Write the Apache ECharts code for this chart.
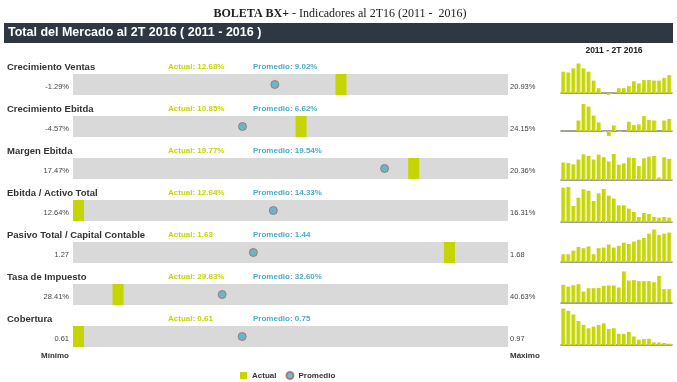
<!DOCTYPE html>
<html>
<head>
<meta charset="utf-8">
<script src="https://cdn.jsdelivr.net/npm/echarts@6/dist/echarts.min.js"></script>
<style>
html,body{margin:0;padding:0;background:#fff;}
#chart{width:677px;height:382px;}
</style>
</head>
<body>
<div id="chart"></div>
<script>
// ---------- DATA ----------
const indicators = ['Crecimiento Ventas', 'Crecimiento Ebitda', 'Margen Ebitda', 'Ebitda / Activo Total', 'Pasivo Total / Capital Contable', 'Tasa de Impuesto', 'Cobertura'];
const minValues = [-1.29, -4.57, 17.47, 12.64, 1.27, 28.41, 0.61];
const maxValues = [20.93, 24.15, 20.36, 16.31, 1.68, 40.63, 0.97];
const actualValues = [12.68, 10.85, 19.77, 12.64, 1.63, 29.83, 0.61];
const averageValues = [9.02, 6.62, 19.54, 14.33, 1.44, 32.60, 0.75];
const isPercent = [true, true, true, true, false, true, false];
const quarters = ['1T11','2T11','3T11','4T11','1T12','2T12','3T12','4T12','1T13','2T13','3T13','4T13','1T14','2T14','3T14','4T14','1T15','2T15','3T15','4T15','1T16','2T16'];
const histVentas = [15.1, 14.6, 17.5, 20.93, 17.5, 15.1, 8.8, 3.4, 0.2, -1.29, 0.2, 3.4, 3.4, 4.9, 8.3, 6.8, 9.2, 9.2, 8.8, 8.8, 10.7, 12.68];
const histEbitda = [0.1, 0.1, 0.1, 9.4, 24.15, 21.8, 13.8, 7.7, -1.0, -4.57, 5.0, -0.8, 0, 8.2, 5.3, 5.9, 13.3, 10.0, 9.4, 0, 9.4, 10.85];
const histMargen = [19.32, 19.24, 19.08, 19.68, 20.32, 20.12, 19.68, 20.28, 19.96, 19.44, 20.36, 19.04, 19.20, 19.92, 19.88, 18.88, 19.84, 20.04, 20.12, 17.47, 19.96, 19.77];
const histEbitdaActivo = [16.23, 16.31, 14.04, 15.03, 16.03, 15.87, 14.63, 15.55, 16.07, 15.27, 14.91, 14.12, 14.12, 13.72, 13.32, 12.72, 13.20, 13.08, 12.72, 12.64, 12.72, 12.64];
const histPasivo = [1.27, 1.27, 1.33, 1.39, 1.37, 1.40, 1.27, 1.37, 1.38, 1.43, 1.38, 1.41, 1.46, 1.44, 1.48, 1.51, 1.54, 1.61, 1.68, 1.59, 1.61, 1.63];
const histTasa = [32.49, 31.47, 32.28, 32.89, 28.41, 30.45, 30.45, 30.65, 31.87, 32.08, 32.08, 30.86, 40.63, 35.13, 35.34, 34.73, 34.73, 34.73, 34.12, 37.99, 29.84, 29.83];
const histCobertura = [0.97, 0.946, 0.909, 0.842, 0.802, 0.768, 0.785, 0.802, 0.818, 0.761, 0.768, 0.711, 0.711, 0.731, 0.684, 0.65, 0.657, 0.66, 0.623, 0.623, 0.617, 0.61];
const histories = [histVentas, histEbitda, histMargen, histEbitdaActivo, histPasivo, histTasa, histCobertura];

// ---------- LAYOUT / STYLE ----------
const GREEN = '#c5d500';
const BLUE = '#4bacc6';
const TXT = '#333333';
const rowTop = i => 74 + i * 42;
const barH = 21;
const sparkTop = [63.5, 104, 154, 187, 229.5, 271.5, 308.5];
const sparkBase = [93, 131, 180, 222, 262, 302.5, 345];
const sparkBaseVal = [0, 0, 17.15, 12.12, 1.141, 21.69, 0.5965];
const sparkMinVal = [-3, -6, 17.15, 12.12, 1.141, 21.69, 0.5965];

const fmt = (v, i) => isPercent[i] ? v.toFixed(2) + '%' : v.toFixed(2);

const grid = [], xAxis = [], yAxis = [], series = [], graphic = [];

indicators.forEach((name, i) => {
  const top = rowTop(i);
  grid.push({left: 73, top: top, width: 435, height: barH, show: true, backgroundColor: '#d9d9d9', borderWidth: 0});
  xAxis.push({type: 'value', gridIndex: 2 * i, min: minValues[i], max: maxValues[i], show: false});
  yAxis.push({type: 'category', gridIndex: 2 * i, data: [name], show: false});
  series.push({
    name: 'Actual', type: 'custom', xAxisIndex: 2 * i, yAxisIndex: 2 * i,
    itemStyle: {color: GREEN},
    data: [[actualValues[i], 0]],
    encode: {x: 0, y: 1},
    renderItem: function (params, api) {
      const x = api.coord([api.value(0), 0])[0];
      const cs = params.coordSys;
      const w = 11;
      const x0 = Math.max(x - w, cs.x);
      return {type: 'rect', shape: {x: x0, y: cs.y, width: w, height: cs.height}, style: {fill: GREEN}};
    }
  });
  series.push({
    name: 'Promedio', type: 'scatter', xAxisIndex: 2 * i, yAxisIndex: 2 * i,
    symbol: 'circle', symbolSize: 8,
    itemStyle: {color: BLUE, borderColor: '#a8675f', borderWidth: 1},
    data: [[averageValues[i], 0]]
  });

  const hist = histories[i];
  const hMax = Math.max.apply(null, hist);
  const pxPerUnit = (sparkBase[i] - sparkTop[i]) / (hMax - sparkBaseVal[i]);
  const gh = (hMax - sparkMinVal[i]) * pxPerUnit;
  grid.push({left: 561, top: sparkTop[i], width: 111, height: gh});
  xAxis.push({type: 'category', gridIndex: 2 * i + 1, data: quarters,
    axisTick: {show: false}, axisLabel: {show: false},
    axisLine: {show: true, onZero: true, lineStyle: {color: '#808080', width: 1.5}}});
  yAxis.push({type: 'value', gridIndex: 2 * i + 1, min: sparkMinVal[i], max: hMax, show: false, splitLine: {show: false}});
  series.push({
    name: 'hist' + i, type: 'bar', xAxisIndex: 2 * i + 1, yAxisIndex: 2 * i + 1,
    barWidth: 4.2,
    itemStyle: {color: new echarts.graphic.LinearGradient(0, 0, 1, 0, [
      {offset: 0, color: '#c3d400'}, {offset: 0.65, color: '#c8d80c'}, {offset: 1, color: '#e4ec8e'}])},
    data: hist
  });

  graphic.push({type: 'text', left: 7, top: top - 12, style: {text: name, font: 'bold 9.5px "Liberation Sans", Arial', fill: TXT}});
  graphic.push({type: 'text', left: 168, top: top - 11, style: {text: 'Actual: ' + fmt(actualValues[i], i), font: 'bold 8px "Liberation Sans", Arial', fill: GREEN}});
  graphic.push({type: 'text', left: 253, top: top - 11, style: {text: 'Promedio: ' + fmt(averageValues[i], i), font: 'bold 8px "Liberation Sans", Arial', fill: BLUE}});
  graphic.push({type: 'text', x: 69, y: top + 13, style: {text: fmt(minValues[i], i), font: '7.5px "Liberation Sans", Arial', fill: '#444', align: 'right', verticalAlign: 'middle'}});
  graphic.push({type: 'text', x: 510, y: top + 13, style: {text: fmt(maxValues[i], i), font: '7.5px "Liberation Sans", Arial', fill: '#444', align: 'left', verticalAlign: 'middle'}});
});

graphic.push({type: 'rect', shape: {x: 4, y: 23, width: 669, height: 20}, style: {fill: '#2e3742'}});
graphic.push({type: 'text', x: 8, y: 33, style: {text: 'Total del Mercado al 2T 2016 ( 2011 - 2016 )', font: 'bold 12.5px "Liberation Sans", Arial', fill: '#ffffff', verticalAlign: 'middle'}});
graphic.push({type: 'text', x: 340, y: 14, style: {
  text: '{b|BOLETA BX+}{n| - Indicadores al 2T16 (2011 -  2016)}',
  align: 'center', verticalAlign: 'middle',
  rich: {
    b: {font: 'bold 12px "Liberation Serif", serif', fill: '#222'},
    n: {font: '12px "Liberation Serif", serif', fill: '#222'}
  }
}});
graphic.push({type: 'text', x: 614, y: 51, style: {text: '2011 - 2T 2016', font: 'bold 8.5px "Liberation Sans", Arial', fill: '#222', align: 'center', verticalAlign: 'middle'}});
graphic.push({type: 'text', x: 69, y: 356, style: {text: 'Mínimo', font: 'bold 8px "Liberation Sans", Arial', fill: TXT, align: 'right', verticalAlign: 'middle'}});
graphic.push({type: 'text', x: 510, y: 356, style: {text: 'Máximo', font: 'bold 8px "Liberation Sans", Arial', fill: TXT, align: 'left', verticalAlign: 'middle'}});

const chart = echarts.init(document.getElementById('chart'), null, {renderer: 'canvas'});
chart.setOption({
  animation: false,
  grid: grid,
  xAxis: xAxis,
  yAxis: yAxis,
  series: series,
  graphic: graphic,
  legend: {
    left: 240, top: 371, itemWidth: 7, itemHeight: 7, itemGap: 9, padding: 0,
    selectedMode: false,
    textStyle: {fontSize: 8, fontWeight: 'bold', color: TXT, fontFamily: '"Liberation Sans", Arial'},
    data: [{name: 'Actual', icon: 'rect'}, {name: 'Promedio', icon: 'circle'}]
  }
});
</script>
</body>
</html>
